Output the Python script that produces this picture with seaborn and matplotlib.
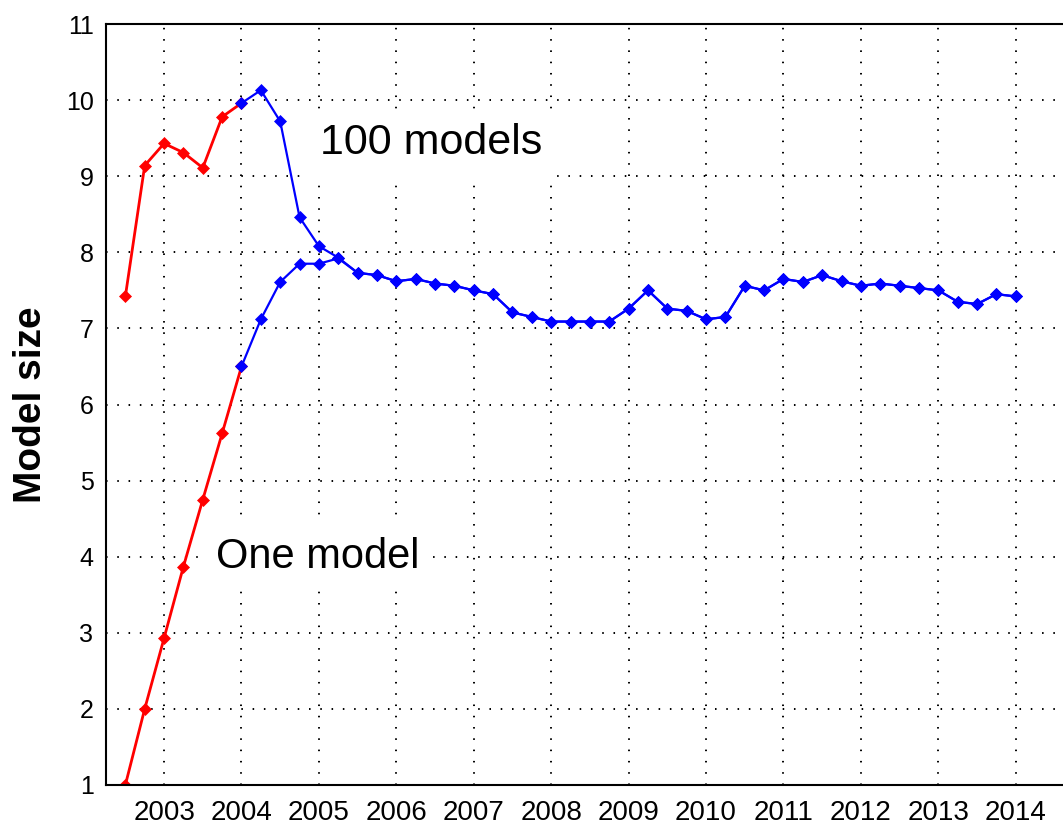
import matplotlib
matplotlib.use("Agg")
import matplotlib.pyplot as plt
import pandas as pd
import seaborn as sns

# quarterly time points
early_quarters = [2002.5, 2002.75, 2003.0, 2003.25, 2003.5, 2003.75, 2004.0]
late_quarters = [2004.0, 2004.25, 2004.5, 2004.75,
                 2005.0, 2005.25, 2005.5, 2005.75,
                 2006.0, 2006.25, 2006.5, 2006.75,
                 2007.0, 2007.25, 2007.5, 2007.75,
                 2008.0, 2008.25, 2008.5, 2008.75,
                 2009.0, 2009.25, 2009.5, 2009.75,
                 2010.0, 2010.25, 2010.5, 2010.75,
                 2011.0, 2011.25, 2011.5, 2011.75,
                 2012.0, 2012.25, 2012.5, 2012.75,
                 2013.0, 2013.25, 2013.5, 2013.75,
                 2014.0]

# model size, red part (before 2004)
early_100 = [7.42, 9.14, 9.43, 9.31, 9.11, 9.78, 9.96]
early_one = [1.0, 2.0, 2.93, 3.87, 4.75, 5.62, 6.5]

# shared tail from 2005.5 on (both curves coincide)
tail = [7.73, 7.70,
        7.62, 7.65, 7.59, 7.56,
        7.50, 7.45, 7.21, 7.15,
        7.09, 7.09, 7.09, 7.09,
        7.26, 7.50, 7.26, 7.23,
        7.12, 7.15, 7.56, 7.50,
        7.65, 7.61, 7.70, 7.62,
        7.56, 7.59, 7.56, 7.53,
        7.50, 7.35, 7.32, 7.45,
        7.42]

# model size, blue part (2004 on)
late_100 = [9.96, 10.13, 9.72, 8.46, 8.08, 7.93] + tail
late_one = [6.5, 7.12, 7.61, 7.85, 7.85, 7.92] + tail

year_ticks = list(range(2003, 2015))
size_ticks = list(range(1, 12))

sns.set_style("white")
plt.rcParams['font.family'] = ['Liberation Sans', 'DejaVu Sans']
plt.rcParams['text.color'] = 'black'
plt.rcParams['axes.labelcolor'] = 'black'

fig = plt.figure(figsize=(10.63, 8.25), dpi=100)
ax = fig.add_axes([106 / 1063, 40 / 825, 1 - 106 / 1063, (785 - 24) / 825])

red_style = dict(color='#ff0000', linewidth=2.0, marker='D', markersize=6,
                 markeredgewidth=0.5, markeredgecolor='#ff0000')
blue_style = dict(color='#0000ff', linewidth=1.6, marker='D', markersize=6,
                  markeredgewidth=0.5, markeredgecolor='#0000ff')

for vals in (early_100, early_one):
    df_early = pd.DataFrame({'year': early_quarters, 'size': vals})
    sns.lineplot(data=df_early, x='year', y='size', ax=ax, **red_style)

for vals in (late_100, late_one):
    df_late = pd.DataFrame({'year': late_quarters, 'size': vals})
    sns.lineplot(data=df_late, x='year', y='size', ax=ax, **blue_style)

ax.set_xlim(2002.25, 2014.61)
ax.set_ylim(1, 11)
ax.set_xticks(year_ticks)
ax.set_yticks(size_ticks)
ax.set_xticklabels([str(y) for y in year_ticks], fontsize=20)
ax.set_yticklabels([str(s) for s in size_ticks], fontsize=18)
ax.tick_params(direction='in', length=8, width=1.2, colors='black')
ax.tick_params(axis='x', pad=11)
ax.tick_params(axis='y', pad=9)
ax.grid(True, color='black', linestyle=(0, (0.8, 5.0)), linewidth=1.4)
ax.set_axisbelow(True)

for side in ('left', 'top', 'bottom'):
    ax.spines[side].set_color('black')
    ax.spines[side].set_linewidth(1.5)
ax.spines['right'].set_visible(False)

ax.set_xlabel("")
ax.set_ylabel("Model size", fontsize=28, fontweight='bold', labelpad=12)

ax.text(2005.01, 9.43, "100 models", fontsize=31, ha='left', va='center',
        bbox=dict(facecolor='white', edgecolor='none', pad=10), zorder=1.5)
ax.text(2003.67, 3.99, "One model", fontsize=30, ha='left', va='center',
        bbox=dict(facecolor='white', edgecolor='none', pad=10), zorder=1.5)

fig.savefig("out.png", dpi=100)
